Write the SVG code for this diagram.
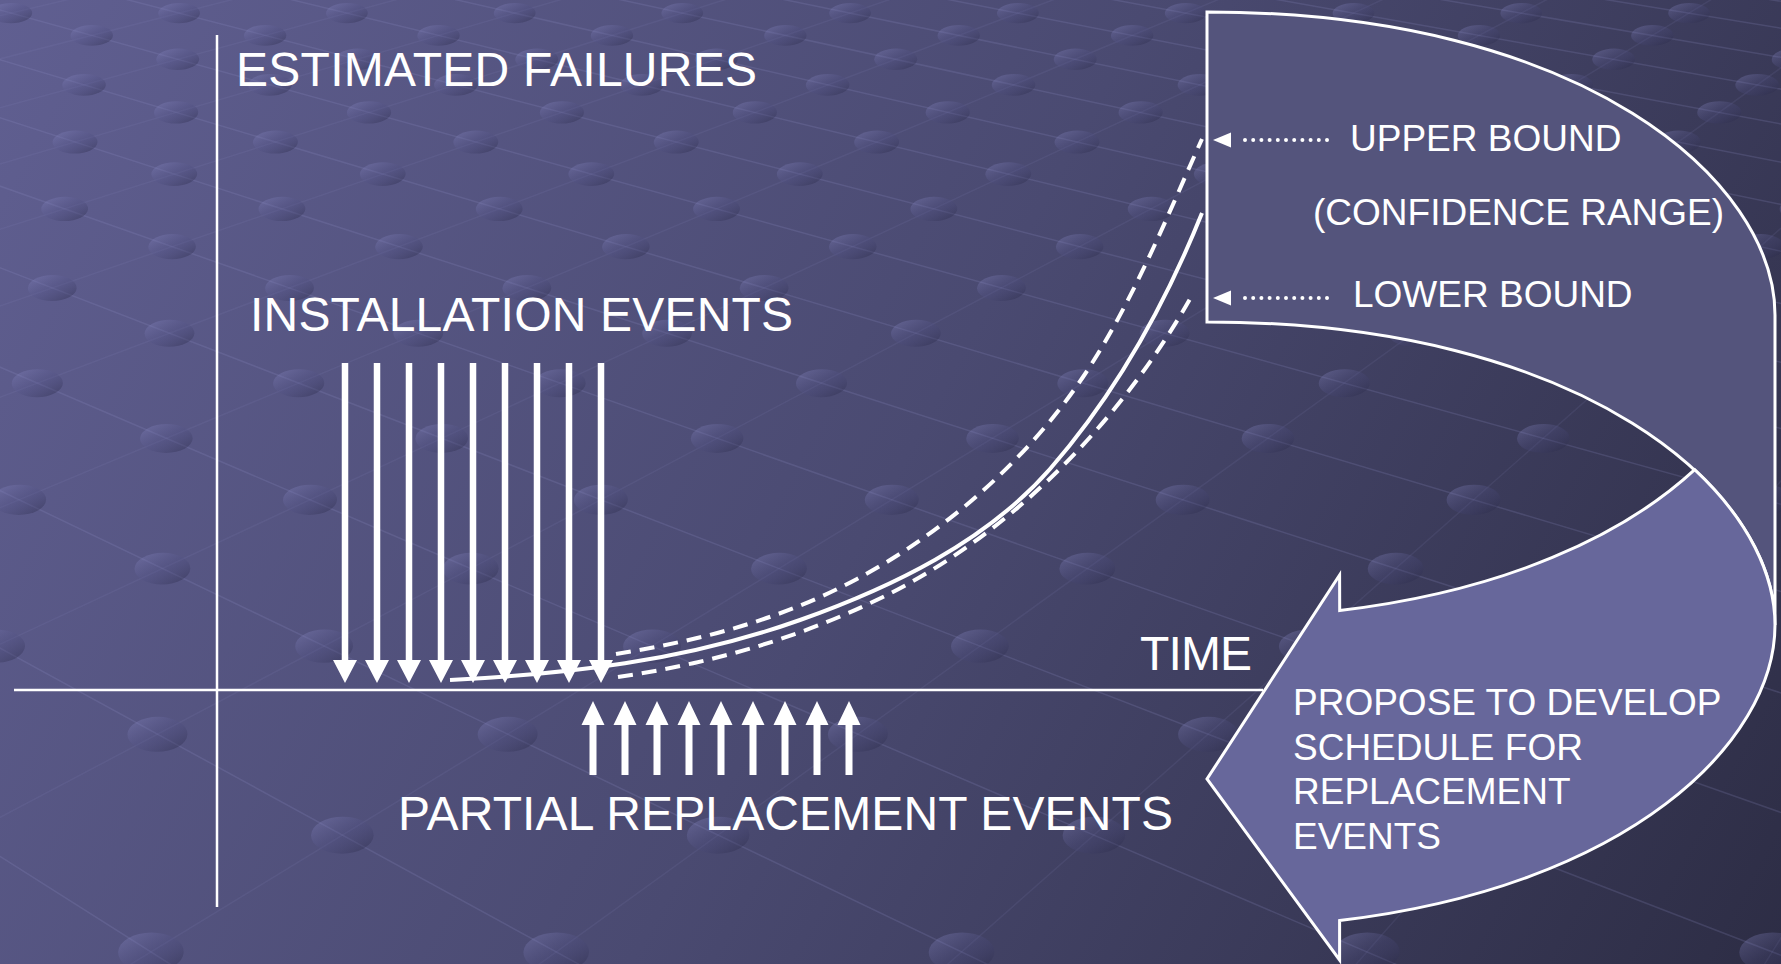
<svg xmlns="http://www.w3.org/2000/svg" xmlns:xlink="http://www.w3.org/1999/xlink" width="1781" height="964" viewBox="0 0 1781 964">
  <defs>
    <linearGradient id="bgGrad" gradientUnits="userSpaceOnUse" x1="0" y1="0" x2="1781" y2="964">
      <stop offset="0" stop-color="#605f91"/>
      <stop offset="0.5" stop-color="#4a4a71"/>
      <stop offset="1" stop-color="#2d2d45"/>
    </linearGradient>
    <linearGradient id="dotShade" x1="0" y1="0" x2="1" y2="1">
      <stop offset="0" stop-color="#9a9ad8" stop-opacity="0.34"/>
      <stop offset="0.5" stop-color="#505084" stop-opacity="0.25"/>
      <stop offset="1" stop-color="#1e1e36" stop-opacity="0.42"/>
    </linearGradient>
    <!-- event arrows, drawn at x = 0 and placed with <use> -->
    <path id="downArrow" d="M-3.25,363 H3.25 V660 H12 L0,683 L-12,660 H-3.25 Z"/>
    <path id="upArrow" d="M0,701 L11.5,725 H3.5 V775 H-3.5 V725 H-11.5 Z"/>
    <style>
      .lbl { font-family: "Liberation Sans", Arial, sans-serif; fill: #ffffff; }
      .big { font-size: 48px; }
      .small { font-size: 37px; }
      .axis { stroke: #ffffff; stroke-width: 2.5; fill: none; }
      .curve { fill: none; stroke: #ffffff; stroke-width: 4; }
      .dash { stroke-dasharray: 15 9; }
      .dot { fill: url(#dotShade); }
      .mesh { fill: none; stroke: #9090c8; stroke-width: 1.5; }
      .meshA { stroke-opacity: 0.2; }
      .meshB { stroke-opacity: 0.11; }
      .ev { fill: #ffffff; }
      .outline { stroke: #ffffff; stroke-width: 3; stroke-linejoin: miter; }
      .pointer { stroke: #ffffff; stroke-width: 4; stroke-linecap: round; stroke-dasharray: 0 8.2; fill: none; }
    </style>
  </defs>

  <!-- backdrop: gradient plus a receding mesh of studs -->
  <g id="background">
    <rect x="0" y="0" width="1781" height="964" fill="url(#bgGrad)"/>
    <g transform="matrix(1 0 -0.03 1 19.5 0)">
      <path class="mesh meshA" d="M-1415,-27.4 L641,1251 M-1257.5,-27.4 L1122,1251 M-1100,-27.4 L1603,1251 M-942.5,-27.4 L2084,1251 M-785,-27.4 L2565,1251 M-627.5,-27.4 L3046,1251 M-470,-27.4 L3527,1251 M-312.5,-27.4 L4008,1251 M-155,-27.4 L4489,1251 M2.5,-27.4 L4970,1251 M160,-27.4 L5451,1251 M317.5,-27.4 L5932,1251 M475,-27.4 L6413,1251 M632.5,-27.4 L6894,1251 M790,-27.4 L7375,1251 M947.5,-27.4 L7856,1251 M1105,-27.4 L8337,1251 M1262.5,-27.4 L8818,1251 M1420,-27.4 L9299,1251 M1577.5,-27.4 L9780,1251 M1735,-27.4 L10261,1251"/>
      <path class="mesh meshB" d="M160,-27.4 L-5131,1251 M317.5,-27.4 L-4650,1251 M475,-27.4 L-4169,1251 M632.5,-27.4 L-3688,1251 M790,-27.4 L-3207,1251 M947.5,-27.4 L-2726,1251 M1105,-27.4 L-2245,1251 M1262.5,-27.4 L-1764,1251 M1420,-27.4 L-1283,1251 M1577.5,-27.4 L-802,1251 M1735,-27.4 L-321,1251 M1892.5,-27.4 L160,1251 M2050,-27.4 L641,1251 M2207.5,-27.4 L1122,1251 M2365,-27.4 L1603,1251"/>
      <g class="dot">
        <ellipse cx="-7.8" cy="13.1" rx="20.9" ry="10.2"/><ellipse cx="160" cy="13.1" rx="20.9" ry="10.2"/><ellipse cx="327.8" cy="13.1" rx="20.9" ry="10.2"/><ellipse cx="495.6" cy="13.1" rx="20.9" ry="10.2"/><ellipse cx="663.2" cy="13.1" rx="20.9" ry="10.2"/><ellipse cx="831" cy="13.1" rx="20.9" ry="10.2"/><ellipse cx="998.8" cy="13.1" rx="20.9" ry="10.2"/><ellipse cx="1166.6" cy="13.1" rx="20.9" ry="10.2"/><ellipse cx="1334.4" cy="13.1" rx="20.9" ry="10.2"/><ellipse cx="1502.2" cy="13.1" rx="20.9" ry="10.2"/><ellipse cx="1670" cy="13.1" rx="20.9" ry="10.2"/>
        <ellipse cx="73.3" cy="35.4" rx="21.2" ry="10.4"/><ellipse cx="246.7" cy="35.4" rx="21.2" ry="10.4"/><ellipse cx="420.1" cy="35.4" rx="21.2" ry="10.4"/><ellipse cx="593.5" cy="35.4" rx="21.2" ry="10.4"/><ellipse cx="766.9" cy="35.4" rx="21.2" ry="10.4"/><ellipse cx="940.3" cy="35.4" rx="21.2" ry="10.4"/><ellipse cx="1113.7" cy="35.4" rx="21.2" ry="10.4"/><ellipse cx="1287.1" cy="35.4" rx="21.2" ry="10.4"/><ellipse cx="1460.5" cy="35.4" rx="21.2" ry="10.4"/><ellipse cx="1633.9" cy="35.4" rx="21.2" ry="10.4"/>
        <ellipse cx="160" cy="59.3" rx="21.5" ry="10.7"/><ellipse cx="339.5" cy="59.3" rx="21.5" ry="10.7"/><ellipse cx="519" cy="59.3" rx="21.5" ry="10.7"/><ellipse cx="698.5" cy="59.3" rx="21.5" ry="10.7"/><ellipse cx="878" cy="59.3" rx="21.5" ry="10.7"/><ellipse cx="1057.5" cy="59.3" rx="21.5" ry="10.7"/><ellipse cx="1237" cy="59.3" rx="21.5" ry="10.7"/><ellipse cx="1416.5" cy="59.3" rx="21.5" ry="10.7"/><ellipse cx="1596" cy="59.3" rx="21.5" ry="10.7"/><ellipse cx="1775.5" cy="59.3" rx="21.5" ry="10.7"/>
        <ellipse cx="67.1" cy="84.9" rx="21.8" ry="10.9"/><ellipse cx="253" cy="84.9" rx="21.8" ry="10.9"/><ellipse cx="438.9" cy="84.9" rx="21.8" ry="10.9"/><ellipse cx="624.8" cy="84.9" rx="21.8" ry="10.9"/><ellipse cx="810.7" cy="84.9" rx="21.8" ry="10.9"/><ellipse cx="996.6" cy="84.9" rx="21.8" ry="10.9"/><ellipse cx="1182.5" cy="84.9" rx="21.8" ry="10.9"/><ellipse cx="1368.4" cy="84.9" rx="21.8" ry="10.9"/><ellipse cx="1554.3" cy="84.9" rx="21.8" ry="10.9"/><ellipse cx="1740.2" cy="84.9" rx="21.8" ry="10.9"/>
        <ellipse cx="160" cy="112.4" rx="22.1" ry="11.2"/><ellipse cx="352.9" cy="112.4" rx="22.1" ry="11.2"/><ellipse cx="545.8" cy="112.4" rx="22.1" ry="11.2"/><ellipse cx="738.7" cy="112.4" rx="22.1" ry="11.2"/><ellipse cx="931.6" cy="112.4" rx="22.1" ry="11.2"/><ellipse cx="1124.5" cy="112.4" rx="22.1" ry="11.2"/><ellipse cx="1317.4" cy="112.4" rx="22.1" ry="11.2"/><ellipse cx="1510.3" cy="112.4" rx="22.1" ry="11.2"/><ellipse cx="1703.2" cy="112.4" rx="22.1" ry="11.2"/>
        <ellipse cx="59.8" cy="142.1" rx="22.5" ry="11.5"/><ellipse cx="260.2" cy="142.1" rx="22.5" ry="11.5"/><ellipse cx="460.6" cy="142.1" rx="22.5" ry="11.5"/><ellipse cx="661" cy="142.1" rx="22.5" ry="11.5"/><ellipse cx="861.4" cy="142.1" rx="22.5" ry="11.5"/><ellipse cx="1061.8" cy="142.1" rx="22.5" ry="11.5"/><ellipse cx="1262.2" cy="142.1" rx="22.5" ry="11.5"/><ellipse cx="1462.6" cy="142.1" rx="22.5" ry="11.5"/><ellipse cx="1663" cy="142.1" rx="22.5" ry="11.5"/>
        <ellipse cx="160" cy="174.1" rx="22.9" ry="11.8"/><ellipse cx="368.5" cy="174.1" rx="22.9" ry="11.8"/><ellipse cx="577" cy="174.1" rx="22.9" ry="11.8"/><ellipse cx="785.5" cy="174.1" rx="22.9" ry="11.8"/><ellipse cx="994" cy="174.1" rx="22.9" ry="11.8"/><ellipse cx="1202.5" cy="174.1" rx="22.9" ry="11.8"/><ellipse cx="1411" cy="174.1" rx="22.9" ry="11.8"/><ellipse cx="1619.5" cy="174.1" rx="22.9" ry="11.8"/>
        <ellipse cx="51.4" cy="208.9" rx="23.4" ry="12.2"/><ellipse cx="268.7" cy="208.9" rx="23.4" ry="12.2"/><ellipse cx="486" cy="208.9" rx="23.4" ry="12.2"/><ellipse cx="703.3" cy="208.9" rx="23.4" ry="12.2"/><ellipse cx="920.6" cy="208.9" rx="23.4" ry="12.2"/><ellipse cx="1137.9" cy="208.9" rx="23.4" ry="12.2"/><ellipse cx="1355.2" cy="208.9" rx="23.4" ry="12.2"/><ellipse cx="1572.5" cy="208.9" rx="23.4" ry="12.2"/><ellipse cx="1789.8" cy="208.9" rx="23.4" ry="12.2"/>
        <ellipse cx="160" cy="246.7" rx="23.8" ry="12.6"/><ellipse cx="386.9" cy="246.7" rx="23.8" ry="12.6"/><ellipse cx="613.8" cy="246.7" rx="23.8" ry="12.6"/><ellipse cx="840.7" cy="246.7" rx="23.8" ry="12.6"/><ellipse cx="1067.6" cy="246.7" rx="23.8" ry="12.6"/><ellipse cx="1294.5" cy="246.7" rx="23.8" ry="12.6"/><ellipse cx="1521.4" cy="246.7" rx="23.8" ry="12.6"/><ellipse cx="1748.3" cy="246.7" rx="23.8" ry="12.6"/>
        <ellipse cx="41.4" cy="288" rx="24.4" ry="13"/><ellipse cx="278.7" cy="288" rx="24.4" ry="13"/><ellipse cx="516" cy="288" rx="24.4" ry="13"/><ellipse cx="753.3" cy="288" rx="24.4" ry="13"/><ellipse cx="990.6" cy="288" rx="24.4" ry="13"/><ellipse cx="1227.9" cy="288" rx="24.4" ry="13"/><ellipse cx="1465.2" cy="288" rx="24.4" ry="13"/><ellipse cx="1702.5" cy="288" rx="24.4" ry="13"/>
        <ellipse cx="160" cy="333.3" rx="24.9" ry="13.5"/><ellipse cx="408.8" cy="333.3" rx="24.9" ry="13.5"/><ellipse cx="657.6" cy="333.3" rx="24.9" ry="13.5"/><ellipse cx="906.4" cy="333.3" rx="24.9" ry="13.5"/><ellipse cx="1155.2" cy="333.3" rx="24.9" ry="13.5"/><ellipse cx="1404" cy="333.3" rx="24.9" ry="13.5"/><ellipse cx="1652.8" cy="333.3" rx="24.9" ry="13.5"/>
        <ellipse cx="29.3" cy="383.2" rx="25.6" ry="14"/><ellipse cx="290.7" cy="383.2" rx="25.6" ry="14"/><ellipse cx="552.1" cy="383.2" rx="25.6" ry="14"/><ellipse cx="813.5" cy="383.2" rx="25.6" ry="14"/><ellipse cx="1074.9" cy="383.2" rx="25.6" ry="14"/><ellipse cx="1336.3" cy="383.2" rx="25.6" ry="14"/><ellipse cx="1597.7" cy="383.2" rx="25.6" ry="14"/>
        <ellipse cx="160" cy="438.4" rx="26.3" ry="14.5"/><ellipse cx="435.4" cy="438.4" rx="26.3" ry="14.5"/><ellipse cx="710.8" cy="438.4" rx="26.3" ry="14.5"/><ellipse cx="986.2" cy="438.4" rx="26.3" ry="14.5"/><ellipse cx="1261.6" cy="438.4" rx="26.3" ry="14.5"/><ellipse cx="1537" cy="438.4" rx="26.3" ry="14.5"/>
        <ellipse cx="14.6" cy="499.8" rx="27" ry="15.1"/><ellipse cx="305.5" cy="499.8" rx="27" ry="15.1"/><ellipse cx="596.4" cy="499.8" rx="27" ry="15.1"/><ellipse cx="887.3" cy="499.8" rx="27" ry="15.1"/><ellipse cx="1178.2" cy="499.8" rx="27" ry="15.1"/><ellipse cx="1469.1" cy="499.8" rx="27" ry="15.1"/><ellipse cx="1760" cy="499.8" rx="27" ry="15.1"/>
        <ellipse cx="160" cy="568.6" rx="27.9" ry="15.8"/><ellipse cx="468.3" cy="568.6" rx="27.9" ry="15.8"/><ellipse cx="776.6" cy="568.6" rx="27.9" ry="15.8"/><ellipse cx="1084.9" cy="568.6" rx="27.9" ry="15.8"/><ellipse cx="1393.2" cy="568.6" rx="27.9" ry="15.8"/><ellipse cx="1701.5" cy="568.6" rx="27.9" ry="15.8"/>
        <ellipse cx="-4" cy="646.2" rx="28.9" ry="16.6"/><ellipse cx="324" cy="646.2" rx="28.9" ry="16.6"/><ellipse cx="651.9" cy="646.2" rx="28.9" ry="16.6"/><ellipse cx="979.8" cy="646.2" rx="28.9" ry="16.6"/><ellipse cx="1307.7" cy="646.2" rx="28.9" ry="16.6"/><ellipse cx="1635.6" cy="646.2" rx="28.9" ry="16.6"/>
        <ellipse cx="160" cy="734.3" rx="30" ry="17.5"/><ellipse cx="510.2" cy="734.3" rx="30" ry="17.5"/><ellipse cx="860.4" cy="734.3" rx="30" ry="17.5"/><ellipse cx="1210.6" cy="734.3" rx="30" ry="17.5"/><ellipse cx="1560.8" cy="734.3" rx="30" ry="17.5"/>
        <ellipse cx="347.9" cy="835.2" rx="31.3" ry="18.5"/><ellipse cx="723.7" cy="835.2" rx="31.3" ry="18.5"/><ellipse cx="1099.5" cy="835.2" rx="31.3" ry="18.5"/><ellipse cx="1475.3" cy="835.2" rx="31.3" ry="18.5"/>
        <ellipse cx="160" cy="952.1" rx="32.8" ry="19.7"/><ellipse cx="565.3" cy="952.1" rx="32.8" ry="19.7"/><ellipse cx="970.6" cy="952.1" rx="32.8" ry="19.7"/><ellipse cx="1375.9" cy="952.1" rx="32.8" ry="19.7"/><ellipse cx="1781.2" cy="952.1" rx="32.8" ry="19.7"/>
      </g>
    </g>
  </g>

  <!-- chart axes -->
  <g id="axes">
    <line class="axis" x1="217" y1="35" x2="217" y2="907"/>
    <line class="axis" x1="14" y1="690" x2="1263" y2="690"/>
    <text class="lbl big" x="236" y="86" textLength="521" lengthAdjust="spacing">ESTIMATED FAILURES</text>
    <text class="lbl big" x="1140" y="670" textLength="112" lengthAdjust="spacing">TIME</text>
  </g>

  <!-- installation events -->
  <g id="installation-events">
    <text class="lbl big" x="250" y="331" textLength="543" lengthAdjust="spacing">INSTALLATION EVENTS</text>
    <g class="ev">
      <use xlink:href="#downArrow" x="345"/>
      <use xlink:href="#downArrow" x="377"/>
      <use xlink:href="#downArrow" x="409"/>
      <use xlink:href="#downArrow" x="441"/>
      <use xlink:href="#downArrow" x="473"/>
      <use xlink:href="#downArrow" x="505"/>
      <use xlink:href="#downArrow" x="537"/>
      <use xlink:href="#downArrow" x="569"/>
      <use xlink:href="#downArrow" x="601"/>
    </g>
  </g>

  <!-- partial replacement events -->
  <g id="replacement-events">
    <g class="ev">
      <use xlink:href="#upArrow" x="593"/>
      <use xlink:href="#upArrow" x="625"/>
      <use xlink:href="#upArrow" x="657"/>
      <use xlink:href="#upArrow" x="689"/>
      <use xlink:href="#upArrow" x="721"/>
      <use xlink:href="#upArrow" x="753"/>
      <use xlink:href="#upArrow" x="785"/>
      <use xlink:href="#upArrow" x="817"/>
      <use xlink:href="#upArrow" x="849"/>
    </g>
    <text class="lbl big" x="398" y="830" textLength="775" lengthAdjust="spacing">PARTIAL REPLACEMENT EVENTS</text>
  </g>

  <!-- failure estimate with confidence band -->
  <g id="failure-curves">
    <path class="curve dash" d="M616,654 C696,641 777,621.6 857,579 C945,532 1027,460 1083,377 C1132,304 1166,219 1202,139"/>
    <path class="curve" d="M450,680 C567,674 683,661.6 800,620 C891.4,587.5 986,542 1050,469 C1115,394.5 1165,305 1202,213"/>
    <path class="curve dash" d="M618,677 C709,663.7 796,639.6 883,597 C1011,534 1119,423 1190,299"/>
  </g>

  <!-- curved arrow: back band with bound labels -->
  <g id="confidence-box">
    <path class="outline" fill="#54547c" d="M1207,12 C1584,12 1775,181 1775,315 L1775,625 C1775,491 1584,322 1207,322 Z"/>
    <text class="lbl small" x="1350" y="151">UPPER BOUND</text>
    <text class="lbl small" x="1313" y="225">(CONFIDENCE RANGE)</text>
    <text class="lbl small" x="1353" y="307">LOWER BOUND</text>
  </g>

  <!-- curved arrow: front part pointing back to the chart -->
  <g id="schedule-arrow">
    <path class="outline" fill="#67679b" d="M1339.7,610.5 C1504.9,591 1623.4,535.5 1694.7,469.7 C1748.2,519.6 1775,574.75 1775,625 C1775,742.25 1628.8,886.3 1339.6,920.5 L1339.6,960 L1207,779 L1339.6,575 Z"/>
    <text class="lbl small" x="1293" y="715">PROPOSE TO DEVELOP</text>
    <text class="lbl small" x="1293" y="760">SCHEDULE FOR</text>
    <text class="lbl small" x="1293" y="804">REPLACEMENT</text>
    <text class="lbl small" x="1293" y="849">EVENTS</text>
  </g>

  <!-- dotted pointers from the labels to the curve ends -->
  <g id="connectors">
    <line class="pointer" x1="1327" y1="140" x2="1237" y2="140"/>
    <polygon class="ev" points="1213,140 1231,132.5 1231,147.5"/>
    <line class="pointer" x1="1327" y1="298" x2="1237" y2="298"/>
    <polygon class="ev" points="1213,298 1231,290.5 1231,305.5"/>
  </g>
</svg>
